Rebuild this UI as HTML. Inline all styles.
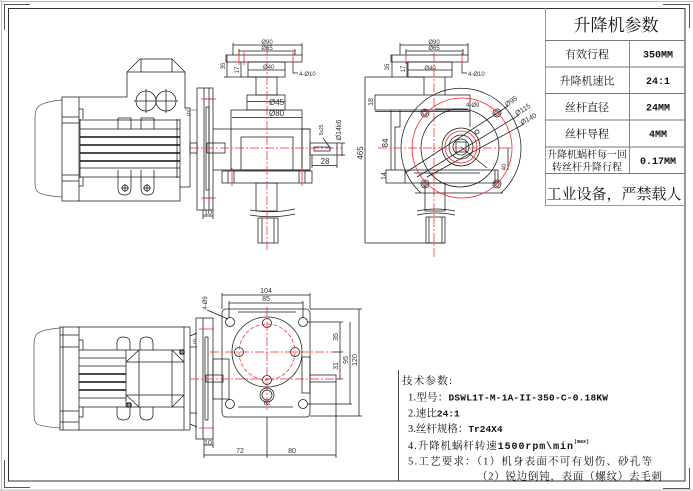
<!DOCTYPE html>
<html><head><meta charset="utf-8">
<style>
html,body{margin:0;padding:0;background:#fff;width:693px;height:491px;overflow:hidden}
svg{display:block}
</style></head><body>
<svg xmlns="http://www.w3.org/2000/svg" width="693" height="491" viewBox="0 0 693 491">
<style>
.k{stroke:#1a1a1a;stroke-width:.75;fill:none}
.h{stroke:#111;stroke-width:1.4;fill:none}
.g{stroke:#999;stroke-width:.8;fill:none}
.r{stroke:#f22;stroke-width:.75;fill:none;stroke-dasharray:9 2 2 2}
.rs{stroke:#f22;stroke-width:.8;fill:none}
.rd{stroke:#f22;stroke-width:.75;fill:none;stroke-dasharray:4 2}
.d{font-family:"Liberation Sans",sans-serif;fill:#333}
.cj{font-family:"Liberation Serif","Noto Serif CJK SC","Noto Sans CJK SC",serif;fill:#111}
.mo{font-family:"Liberation Mono",monospace;font-weight:bold;fill:#111}
</style>

<!-- frame -->
<path d="M0,1.5H693M1.5,0V491M0,490H693" stroke="#bbb" fill="none" stroke-width="1"/>
<path d="M4.5,30V4.5H30M663,4.5H689.5V28M4.5,460V487.5H30M663,488.5H689.5V468" stroke="#555" fill="none" stroke-width="1"/>
<rect x="8.5" y="8.5" width="676.5" height="472.5" fill="none" stroke="#333" stroke-width="1"/>

<!-- table -->
<path d="M545.5,8V205.5H685" stroke="#999" fill="none" stroke-width="1"/>
<path d="M545,40.5H685M545,67H685M545,93.5H685M545,120H685M545,147H685M545,173.5H685M629.5,40V173.5" stroke="#777" stroke-width=".9" fill="none"/>
<text x="616" y="31" text-anchor="middle" font-size="17" class="cj">升降机参数</text>
<text x="587" y="58" text-anchor="middle" font-size="11" class="cj">有效行程</text>
<text x="587" y="84.5" text-anchor="middle" font-size="11" class="cj">升降机速比</text>
<text x="587" y="111" text-anchor="middle" font-size="11" class="cj">丝杆直径</text>
<text x="587" y="137.5" text-anchor="middle" font-size="11" class="cj">丝杆导程</text>
<text x="587" y="158" text-anchor="middle" font-size="10" class="cj">升降机蜗杆每一回</text>
<text x="587" y="170.5" text-anchor="middle" font-size="10" class="cj">转丝杆升降行程</text>
<text x="614" y="199" text-anchor="middle" font-size="15" class="cj">工业设备，严禁载人</text>
<text x="658" y="57.5" text-anchor="middle" class="mo" font-size="10">350MM</text>
<text x="658" y="84" text-anchor="middle" class="mo" font-size="10">24:1</text>
<text x="658" y="110.5" text-anchor="middle" class="mo" font-size="10">24MM</text>
<text x="658" y="137" text-anchor="middle" class="mo" font-size="10">4MM</text>
<text x="658" y="164" text-anchor="middle" class="mo" font-size="10">0.17MM</text>

<!-- tech params -->
<path d="M398.5,370V481" stroke="#444" stroke-width="1" fill="none"/>
<text x="402" y="384" font-size="10.5" class="cj" textLength="50" lengthAdjust="spacing">技术参数:</text>
<text x="408" y="400.5" font-size="10.5" class="cj" textLength="200" lengthAdjust="spacing">1.型号：<tspan class="mo" style="font-size:9.5px">DSWL1T-M-1A-II-350-C-0.18KW</tspan></text>
<text x="408" y="416.5" font-size="10.5" class="cj">2.速比<tspan class="mo" style="font-size:9.5px">24:1</tspan></text>
<text x="408" y="432" font-size="10.5" class="cj">3.丝杆规格：<tspan class="mo" style="font-size:9.5px">Tr24X4</tspan></text>
<text x="408" y="449" font-size="10.5" class="cj" textLength="165" lengthAdjust="spacing">4.升降机蜗杆转速<tspan class="mo" style="font-size:10px">1500rpm\min</tspan></text>
<text x="574" y="443" class="mo" style="font-size:5px">(max)</text>
<text x="408" y="464.5" font-size="10.5" class="cj" textLength="244" lengthAdjust="spacing">5.工艺要求：（1）机身表面不可有划伤、砂孔等</text>
<text x="477" y="479.5" font-size="10.5" class="cj" textLength="185" lengthAdjust="spacing">（2）锐边倒钝，表面（螺纹）去毛刺</text>

<!-- VIEW 1 : motor side -->
<g class="k">
<path d="M62,100C50,101 42,103 38,107Q35,110 35,118V182Q35,190 38,192C42,195 50,196 62,197" stroke="#555"/>
<rect x="62" y="97" width="17" height="104"/>
<path d="M62,117H79M62,123H79M62,175H79M62,181H79"/>
<path d="M79,109H83V119M79,186H83V177"/>
<path d="M79,97H127V72L140,59H172L185,72V108H190V187H180V201H79"/>
<path d="M127,72H185M141,59V72M172,59V72"/>
<circle cx="146" cy="101" r="10"/><circle cx="166" cy="101" r="10"/>
<path d="M134,101H178M146,89V113M166,89V113"/>
<path d="M80,120H180M80,129H180M80,168H180M80,177H180M80,119V178M177,119V178M180,119V187"/>
<path d="M118,129V118H131V129M141,129V118H154V129"/>
<path d="M118,170V188Q118,195 124.5,195Q131,195 131,188V170M141,170V188Q141,195 147.5,195Q154,195 154,188V170"/>
<circle cx="125" cy="188" r="3"/><circle cx="147" cy="188" r="3"/>
<path d="M121,188H129M125,184V192M143,188H151M147,184V192"/>
<rect x="190" y="143" width="7" height="10"/>
<path d="M185,110H197" stroke="#888"/>
</g>
<path class="h" d="M80,137H180M80,145H180M80,153H180M80,161H180"/>
<text x="187" y="116" class="d" font-size="6">5</text>

<!-- VIEW 2 : front -->
<g class="k">
<rect x="197" y="88" width="16" height="122"/>
<path d="M204,88V210M209,88V210"/>
<rect x="206" y="107" width="3" height="83"/>
<path d="M204,99H213M204,198H213"/>
<path d="M203,210V219M213,210V219M203,216H213"/>
<rect x="207" y="143" width="18" height="10"/>
<path d="M213,129H310M213,170H310"/>
<rect x="231" y="110" width="71" height="60"/>
<path d="M232,117.5H302"/>
<rect x="241" y="137" width="52" height="33"/>
<rect x="302" y="129" width="8" height="41"/>
<rect x="310" y="143" width="27" height="12"/>
<path d="M314,147H330V151H314Z"/>
<path d="M312,155V168M337,155V168M312,165.5H337M342,143V156M337,143H345M337,155H345"/>
<path d="M323,138L331,149"/>
<rect x="247" y="95" width="38" height="15"/>
<path d="M247,101.5H285"/>
<rect x="256" y="77" width="21" height="18"/>
<rect x="248" y="62" width="37" height="15"/>
<path d="M248,70H285"/>
<rect x="226" y="55" width="76" height="7"/>
<path d="M233,45H302M233,43V55M302,43V55M239,51H295M239,49V55M295,49V55"/>
<path d="M227,55V77M241,62V77M224,77H256"/>
<path d="M293,62V73H298"/>
<rect x="222" y="171" width="90" height="12"/>
<path d="M228,171V183M234,171V183M299,171V183M305,171V183"/>
<rect x="256" y="183" width="21" height="28"/>
<path d="M250,210Q272,214 295,209M250,215Q272,219 295,214"/>
<rect x="258" y="218" width="20" height="25"/>
<path d="M262,218V243M274,218V243"/>
</g>
<path class="r" d="M190,148H342M267,46V250"/>
<path class="rs" d="M201,99H216M201,198H216M239,52V65M244,52V65M293,52V65M232,168V186M302,168V186"/>
<text x="267" y="44" class="d" font-size="6" text-anchor="middle">Ø90</text>
<text x="267" y="50" class="d" font-size="6" text-anchor="middle">Ø65</text>
<text x="263" y="69" class="d" font-size="6">Ø40</text>
<text x="269" y="105" class="d" font-size="8">Ø45</text>
<text x="269" y="116" class="d" font-size="8">Ø80</text>
<text x="299" y="76" class="d" font-size="6">4-Ø10</text>
<text x="325" y="164" class="d" font-size="8" text-anchor="middle">28</text>
<text x="208" y="215" class="d" font-size="7" text-anchor="middle">10</text>
<text transform="translate(225,66) rotate(-90)" class="d" font-size="6" text-anchor="middle">35</text>
<text transform="translate(239,70) rotate(-90)" class="d" font-size="6" text-anchor="middle">17</text>
<text transform="translate(341,130) rotate(-90)" class="d" font-size="7" text-anchor="middle">Ø14k6</text>
<text transform="translate(323,130) rotate(-90)" class="d" font-size="5" text-anchor="middle">5x25</text>

<!-- VIEW 3 : side with circles -->
<g class="k">
<path d="M400,45H468M400,43V55M468,43V55M406,51H463M406,49V55M463,49V55"/>
<rect x="391" y="55" width="77" height="7"/>
<rect x="408" y="62" width="44" height="15"/>
<path d="M408,70H452"/>
<path d="M392,55V77M407,62V77M365,77H424"/>
<path d="M462,62V73H467"/>
<path d="M424,77V95M445,77V95"/>
<rect x="375" y="95" width="95" height="15"/>
<path d="M375,111.5H470"/>
<path d="M400,110V127H395V170M470,110V127"/>
<path d="M391,110V170"/>
<rect x="386" y="170" width="112" height="13"/>
<path d="M405,170V183M495,170V183M414,173H480"/>
<path d="M421,193A60,60 0 1 1 501,193M415,193H503"/>
<circle cx="460" cy="148" r="39"/>
<circle cx="425" cy="113" r="4"/><circle cx="497" cy="113" r="4"/><circle cx="425" cy="184" r="4"/><circle cx="497" cy="184" r="4"/>
<circle cx="425" cy="113" r="2.2"/><circle cx="497" cy="113" r="2.2"/><circle cx="425" cy="184" r="2.2"/><circle cx="497" cy="184" r="2.2"/>
<circle cx="461" cy="147" r="19"/>
<circle cx="461" cy="147" r="12"/>
<circle cx="461" cy="147" r="8"/>
<rect x="456" y="142" width="10" height="10"/>
<circle cx="477" cy="132" r="2"/>
<path d="M405,173L508,106M417,177L519,115M427,177L524,124M461,147L487,168"/>
<path d="M435,109H468"/>
<path d="M508,147V170"/>
<path d="M365,77V243M365,243H445"/>
<rect x="425" y="183" width="20" height="28"/>
<path d="M417,211Q436,207 455,211M417,215Q436,211 455,215"/>
<rect x="426" y="217" width="19" height="26"/>
<path d="M429,217V243M442,217V243"/>
</g>
<circle cx="462" cy="148" r="50" class="rs"/>
<circle cx="461" cy="147" r="16" class="rs"/>
<path class="r" d="M378,148H512M434,53V258"/>
<path class="rs" d="M406,53V64M462,53V64"/>
<text x="434" y="44" class="d" font-size="6" text-anchor="middle">Ø90</text>
<text x="434" y="50" class="d" font-size="6" text-anchor="middle">Ø65</text>
<text x="430" y="70" class="d" font-size="6" text-anchor="middle">Ø40</text>
<text x="468" y="76" class="d" font-size="6">4-Ø10</text>
<text x="466" y="107" class="d" font-size="6">4-Ø9</text>
<text transform="translate(507,107) rotate(-35)" class="d" font-size="7">Ø95</text>
<text transform="translate(517,116) rotate(-32)" class="d" font-size="7">Ø115</text>
<text transform="translate(522,125) rotate(-28)" class="d" font-size="7">Ø140</text>
<text transform="translate(389,67) rotate(-90)" class="d" font-size="6" text-anchor="middle">35</text>
<text transform="translate(405,69) rotate(-90)" class="d" font-size="6" text-anchor="middle">17</text>
<text transform="translate(373,102) rotate(-90)" class="d" font-size="7" text-anchor="middle">18</text>
<text transform="translate(388,143) rotate(-90)" class="d" font-size="8" text-anchor="middle">84</text>
<text transform="translate(386,176) rotate(-90)" class="d" font-size="7" text-anchor="middle">14</text>
<text transform="translate(506,167) rotate(-90)" class="d" font-size="6" text-anchor="middle">40</text>
<text transform="translate(363,153) rotate(-90)" class="d" font-size="8" text-anchor="middle">465</text>

<!-- VIEW 4 : motor top -->
<g class="k">
<path d="M60,328C48,329 40,331 37,334Q34,337 34,345V414Q34,422 37,424C40,426 48,427 60,428" stroke="#555"/>
<rect x="60" y="327" width="19" height="103"/>
<path d="M63,327V430M60,335H79M60,347H79M60,411H79M60,422H79"/>
<path d="M79,340H83V350M79,417H83V407"/>
<path d="M79,327H184M79,430H184M184,327V430M190,327V430M184,327H190M184,430H190"/>
<path d="M79,350H184M79,407H184M79,358H126M79,366H126M79,398H126"/>
<path d="M126,350V407M139,350V407M172,350V407M126,362H184M126,395H184"/>
<path d="M126,362L139,350M172,350L184,362M126,395L139,407M172,407L184,395"/>
<path d="M117,350V343Q117,337 123.5,337Q130,337 130,343V350M140,350V343Q140,337 146.5,337Q153,337 153,343V350"/>
<path d="M117,407V414Q117,420 123.5,420Q130,420 130,414V407M140,407V414Q140,420 146.5,420Q153,420 153,414V407"/>
<path d="M190,336L197,333M190,347H197M190,413H197M190,424L197,427"/>
<rect x="196" y="318" width="17" height="121"/>
<path d="M203,318V439M205,337V420M208,337V420M205,337H208M205,420H208"/>
<path d="M204,439V448M213,439V448M204,445H213"/>
<path d="M207,310L228,319"/>
</g>
<path class="h" d="M79,374H126M79,382H126M79,390H126"/>
<circle cx="182" cy="352" r="3" fill="#222"/><circle cx="129" cy="405" r="3" fill="#222"/>
<path d="M177,352H187M182,347V357M124,405H134M129,400V410" stroke="#fff" stroke-width=".6"/>
<path class="rs" d="M199,329H214M199,428H214"/>
<text x="193" y="344" class="d" font-size="6">5</text>
<text x="208" y="445" class="d" font-size="7" text-anchor="middle">10</text>
<text transform="translate(207,303) rotate(-90)" class="d" font-size="6" text-anchor="middle">4-Ø9</text>

<!-- VIEW 5 : gearbox top -->
<g class="k">
<rect x="213" y="359" width="16" height="40"/>
<rect x="206" y="375" width="17" height="7"/>
<rect x="222" y="309" width="88" height="108" rx="4"/>
<path d="M238,312H296"/>
<circle cx="230" cy="322" r="4.5"/><circle cx="303" cy="322" r="4.5"/><circle cx="230" cy="404" r="4.5"/><circle cx="303" cy="404" r="4.5"/>
<circle cx="267" cy="352" r="35"/>
<circle cx="267" cy="323" r="4.5"/><circle cx="239" cy="352" r="4.5"/><circle cx="295" cy="352" r="4.5"/><circle cx="267" cy="380" r="4.5"/>
<circle cx="267" cy="395" r="7"/><circle cx="267" cy="395" r="5"/>
<rect x="302" y="357" width="8" height="36"/>
<rect x="310" y="375" width="26" height="7"/>
<path d="M238,407H293"/>
<path d="M222,295H310M222,293V309M310,293V309M229,303H303M229,301V318M303,301V318"/>
<path d="M308,322H343M333,352H343M336,379H343M308,404H352M310,309H362M310,416H362"/>
<path d="M340,322V379M350,322V404M359,309V416"/>
<path d="M267,417V458M204,448V458M336,382V458M204,455H336"/>
</g>
<path class="rd" d="M295,352A28,28 0 1 1 295,351.9"/>
<path class="r" d="M210,352H333M190,379H342M267,307V410"/>
<text x="266" y="293" class="d" font-size="7" text-anchor="middle">104</text>
<text x="266" y="301" class="d" font-size="7" text-anchor="middle">85</text>
<text x="267" y="405" class="d" font-size="6" text-anchor="middle">62</text>
<text x="240" y="453" class="d" font-size="7" text-anchor="middle">72</text>
<text x="292" y="453" class="d" font-size="7" text-anchor="middle">80</text>
<text transform="translate(338,337) rotate(-90)" class="d" font-size="7" text-anchor="middle">35</text>
<text transform="translate(338,366) rotate(-90)" class="d" font-size="7" text-anchor="middle">31</text>
<text transform="translate(348,360) rotate(-90)" class="d" font-size="7" text-anchor="middle">95</text>
<text transform="translate(357,360) rotate(-90)" class="d" font-size="7" text-anchor="middle">120</text>
</svg>
</body></html>
